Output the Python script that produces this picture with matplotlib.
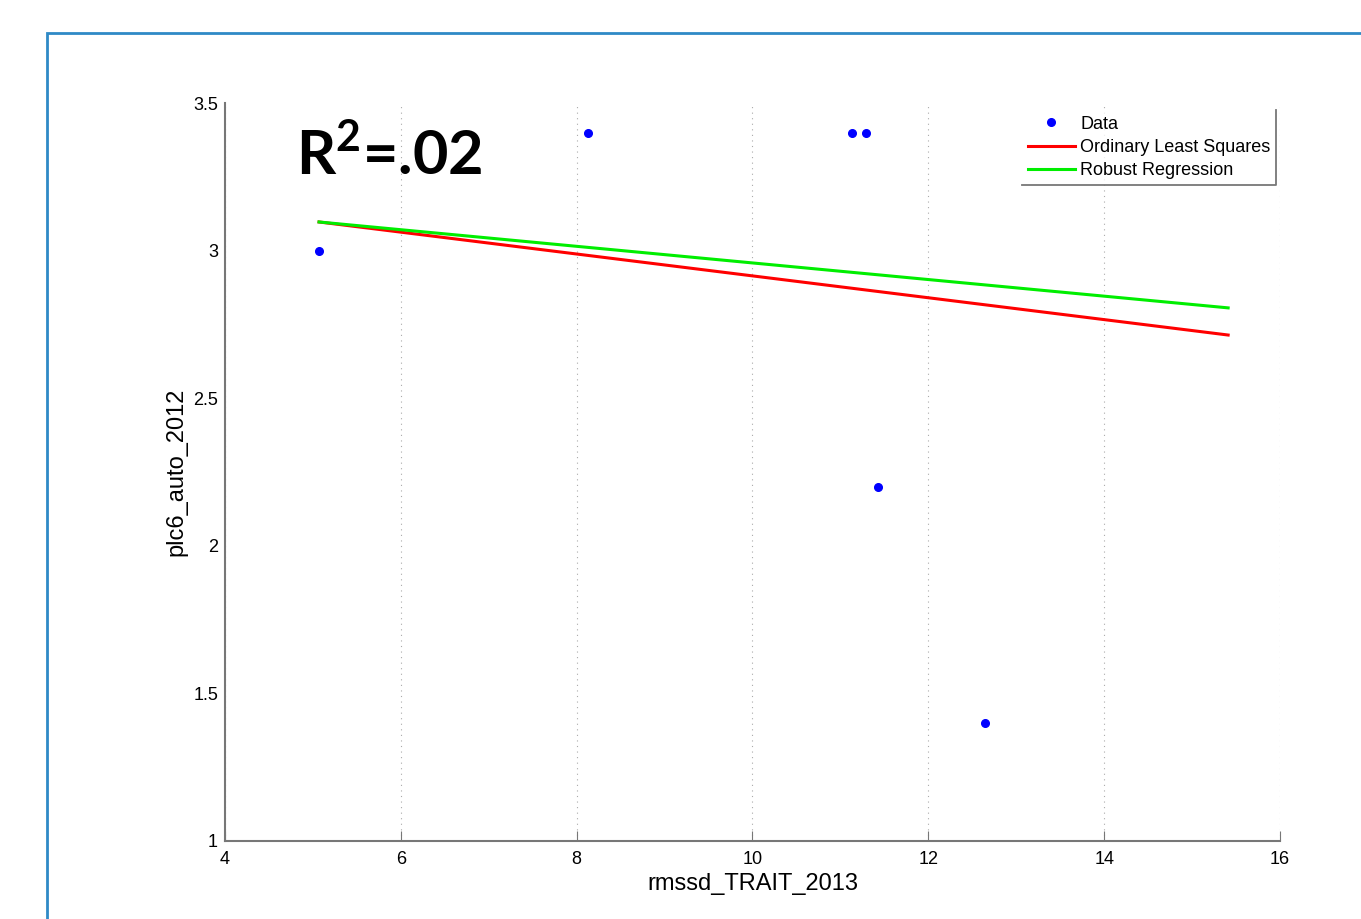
import numpy as np
import matplotlib
matplotlib.use("Agg")
import matplotlib.pyplot as plt
from matplotlib.patches import Rectangle
from matplotlib.lines import Line2D

matplotlib.rcParams.update({'font.family': ['Liberation Sans', 'DejaVu Sans'],
                            'font.size': 13,
                            'mathtext.fontset': 'custom',
                            'mathtext.bf': 'Lato:bold',
                            'mathtext.rm': 'Lato:bold',
                            'xtick.direction': 'in',
                            'ytick.direction': 'in',
                            'xtick.major.size': 7,
                            'ytick.major.size': 0,
                            'xtick.color': '#777777',
                            'ytick.color': '#777777',
                            'xtick.labelcolor': 'black',
                            'ytick.labelcolor': 'black'})

# scatter data
rmssd = [5.07, 8.13, 11.13, 11.29, 11.43, 12.65]
plc6 = [3.0, 3.4, 3.4, 3.4, 2.2, 1.4]

# fitted lines (endpoints over the fit range)
fit_x = [5.07, 15.41]
ols_y = [3.097, 2.714]
robust_y = [3.097, 2.806]

xticks = [4, 6, 8, 10, 12, 14, 16]
yticks = [1, 1.5, 2, 2.5, 3, 3.5]

fig = plt.figure(figsize=(13.61, 9.19), dpi=100)
ax = fig.add_axes([0.1653, 0.0849, 0.7752, 0.8030])

# thin blue frame round the figure
fig.add_artist(Rectangle((0.0345, -0.05), 1.0, 0.964 + 0.05, transform=fig.transFigure,
                         fill=False, edgecolor='#2f8ac6', linewidth=2))

ax.plot(rmssd, plc6, 'o', color='blue', markersize=5.5, label='Data')
ax.plot(fit_x, ols_y, color='red', linewidth=2.2, label='Ordinary Least Squares')
ax.plot(fit_x, robust_y, color='#00ee00', linewidth=2.2, label='Robust Regression')

ax.set_xlim(4, 16)
ax.set_ylim(1, 3.5)
ax.set_xticks(xticks)
ax.set_yticks(yticks)
ax.set_yticklabels(['1', '1.5', '2', '2.5', '3', '3.5'])
ax.tick_params(axis='x', labelsize=13, pad=7)
ax.tick_params(axis='y', labelsize=13, pad=5)
ax.xaxis.grid(True, linestyle=(0, (1, 4)), color='#aaaaaa', linewidth=0.8)

for side in ['top', 'right']:
    ax.spines[side].set_visible(False)
for side in ['left', 'bottom']:
    ax.spines[side].set_color('#777777')
    ax.spines[side].set_linewidth(1.5)

ax.set_xlabel('rmssd_TRAIT_2013', fontsize=17, labelpad=4)
ax.set_ylabel('plc6_auto_2012', fontsize=17, labelpad=4)

ax.text(0.067, 0.93, r'R$^{\mathbf{2}}$=.02', transform=ax.transAxes,
        family='Lato', weight='bold', fontsize=44, va='center', ha='left')

leg = ax.legend(loc='upper right', bbox_to_anchor=(0.996, 0.99), fontsize=13,
                frameon=True, fancybox=False, borderpad=0.3, labelspacing=0.35,
                handlelength=2.6, handletextpad=0.3, borderaxespad=0.0)
leg.get_frame().set_edgecolor('none')

# darker right and bottom edges on the legend box
fig.canvas.draw()
bb = leg.get_frame().get_window_extent()
inv = fig.transFigure.inverted()
(x0, y0), (x1, y1) = inv.transform([[bb.x0, bb.y0], [bb.x1, bb.y1]])
fig.add_artist(Line2D([x0, x1, x1], [y0, y0, y1], transform=fig.transFigure,
                      color='#777777', linewidth=1.3))

fig.savefig('out.png', dpi=100)
